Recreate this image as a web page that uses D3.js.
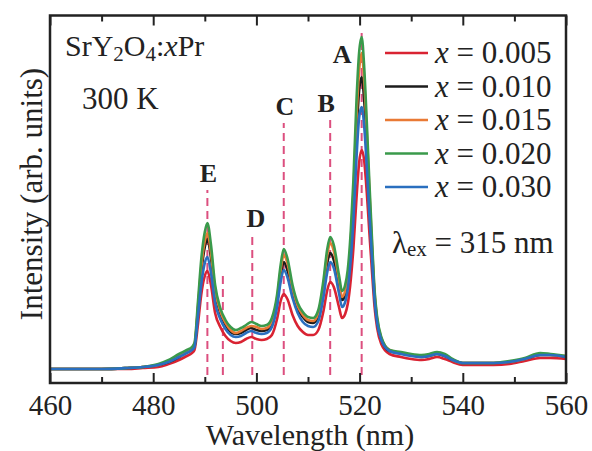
<!DOCTYPE html>
<html>
<head>
<meta charset="utf-8">
<script src="https://cdn.jsdelivr.net/npm/d3@7"></script>
<style>
  body { margin: 0; background: #fff; }
  text { font-family: "Liberation Serif", "Times New Roman", serif; fill: #222; }
</style>
</head>
<body>
<script>
// Emission spectra of SrY2O4:xPr (arb. units)
var wavelength = [460, 465, 470, 475, 478, 481, 483, 485, 486.5, 487.5, 488,
    488.7, 489.3, 490, 490.5, 491.2, 492, 493, 494, 495, 496, 497, 498, 499,
    500, 501, 502, 503, 504, 504.7, 505.3, 506, 507, 508, 509, 510, 511, 512,
    513, 513.7, 514.3, 515, 516, 516.6, 517.2, 517.7, 518.3, 518.8, 519.4,
    519.9, 520.4, 520.9, 521.4, 521.9, 522.5, 522.9, 523.4, 524.2, 525.8, 528,
    530, 532, 533.5, 535, 536.5, 538, 540, 543, 546, 549, 552, 555, 557, 560];

var int005 = [14, 14, 14, 14, 15, 16, 19, 23, 27, 30, 33, 60, 88, 107, 112, 98,
    70, 56, 47, 42, 40, 41, 44, 46, 44, 43, 44, 48, 64, 82, 89, 84, 68, 57, 51,
    48, 48, 53, 72, 92, 101, 96, 76, 65, 69, 79, 104, 135, 185, 220, 233, 222,
    190, 150, 104, 76, 55, 39, 29, 26, 24, 23, 24, 26, 24, 21, 18, 18, 18, 19,
    22, 25, 25, 24];
var int010 = [14, 14, 14, 15, 16, 18, 21, 26, 31, 34, 37, 75, 110, 136, 144,
    125, 90, 70, 58, 51, 49, 50, 53, 55, 53, 52, 53, 59, 80, 107, 121, 113, 90,
    74, 66, 61, 60, 67, 92, 119, 130, 123, 97, 83, 88, 101, 135, 178, 248, 292,
    306, 282, 235, 182, 123, 87, 62, 44, 32, 30, 28, 26, 27, 29, 27, 23, 20,
    20, 20, 21, 24, 28, 28, 26];
var int015 = [14, 14, 14, 15, 16, 18, 22, 27, 32, 35, 38, 78, 115, 142, 150,
    130, 93, 72, 60, 53, 50, 52, 55, 57, 56, 54, 55, 62, 84, 113, 128, 120, 94,
    77, 68, 63, 62, 70, 98, 127, 140, 132, 103, 86, 92, 106, 143, 190, 265, 312,
    330, 302, 250, 192, 128, 90, 64, 45, 33, 30, 28, 27, 28, 30, 28, 23, 20,
    20, 20, 21, 24, 29, 28, 27];
var int020 = [14, 14, 14, 15, 16, 19, 23, 29, 33, 36, 40, 83, 123, 151, 160,
    138, 98, 75, 63, 56, 53, 55, 58, 61, 59, 57, 58, 65, 88, 118, 134, 125, 98,
    80, 71, 66, 65, 73, 103, 133, 146, 138, 108, 92, 98, 113, 153, 203, 283,
    330, 346, 315, 260, 200, 133, 93, 66, 46, 33, 31, 29, 28, 29, 31, 29, 24,
    20, 20, 20, 22, 25, 30, 29, 27];
var int030 = [14, 14, 14, 15, 16, 18, 21, 26, 30, 33, 36, 68, 98, 120, 126,
    110, 80, 64, 54, 48, 46, 47, 50, 52, 50, 49, 50, 56, 76, 101, 113, 106, 85,
    70, 61, 57, 56, 62, 86, 110, 121, 115, 90, 76, 81, 94, 124, 162, 225, 265,
    276, 256, 215, 168, 116, 83, 60, 43, 32, 29, 27, 26, 27, 29, 27, 23, 20,
    20, 20, 21, 24, 28, 28, 26];

var seriesNames = ["0.005", "0.010", "0.015", "0.020", "0.030"];
var seriesColors = ["#d92332", "#1c1c1c", "#e97a35", "#3a9a4b", "#2a6fbf"];
var seriesValues = [int005, int010, int015, int020, int030];
var drawOrder = [0, 1, 2, 3, 4];

// Peak markers: position, top of dashed line, label
var peakPos = [490.5, 493.5, 499.2, 505.3, 514.3, 520.4];
var peakTop = [193, 111, 148, 260, 263, 350];
var peakLabel = ["E", "", "D", "C", "B", "A"];
var labelPos = [490.7, null, 499.9, 505.5, 513.5, 516.6];
var labelHeight = [201, null, 156, 268, 271, 320];

var xMajor = [460, 480, 500, 520, 540, 560];
var xMinor = [470, 490, 510, 530, 550];

var margin = {top: 15.5, right: 26, bottom: 68, left: 50},
    width = 592 - margin.left - margin.right,
    height = 451 - margin.top - margin.bottom;

var svg = d3.select("body").append("svg")
    .attr("width", 592)
    .attr("height", 451)
    .append("g")
    .attr("transform", "translate(" + margin.left + "," + margin.top + ")");

var x = d3.scaleLinear().domain([460, 560]).range([0, width]);
var y = d3.scaleLinear().domain([0, 367.5]).range([height, 0]);

// dashed peak lines
svg.selectAll("line.peak")
    .data(peakPos)
    .enter()
    .append("line")
    .attr("class", "peak")
    .attr("x1", function(d) { return x(d); })
    .attr("x2", function(d) { return x(d); })
    .attr("y1", y(8))
    .attr("y2", function(d, i) { return y(peakTop[i]); })
    .attr("stroke", "#dc4f7f")
    .attr("stroke-width", 2)
    .attr("stroke-dasharray", "8,5");

// spectra
var line = d3.line()
    .x(function(d) { return x(d[0]); })
    .y(function(d) { return y(d[1]); })
    .curve(d3.curveMonotoneX);

drawOrder.forEach(function(k) {
    var pts = wavelength.map(function(w, i) { return [w, seriesValues[k][i]]; });
    svg.append("path")
        .datum(pts)
        .attr("d", line)
        .attr("fill", "none")
        .attr("stroke", seriesColors[k])
        .attr("stroke-width", 2.6)
        .attr("stroke-linejoin", "round");
});

// peak letters
svg.selectAll("text.peakLabel")
    .data(peakLabel)
    .enter()
    .filter(function(d) { return d !== ""; })
    .append("text")
    .attr("class", "peakLabel")
    .attr("x", function(d) { return x(labelPos[peakLabel.indexOf(d)]); })
    .attr("y", function(d) { return y(labelHeight[peakLabel.indexOf(d)]); })
    .attr("text-anchor", "middle")
    .attr("font-weight", "bold")
    .attr("font-size", "26px")
    .text(function(d) { return d; });

// axes, ticks pointing inward
function tickAxis(gen, vals, size) {
    return gen(x).tickValues(vals).tickSize(-size).tickFormat("");
}
var bottom = svg.append("g").attr("transform", "translate(0," + height + ")");
bottom.call(tickAxis(d3.axisBottom, xMinor, 6));
var bottomMajor = svg.append("g")
    .attr("transform", "translate(0," + height + ")")
    .call(d3.axisBottom(x).tickValues(xMajor).tickSize(-10).tickPadding(11)
        .tickFormat(d3.format("d")));
bottomMajor.selectAll("text").attr("font-size", "29px")
    .style("font-family", "'Liberation Serif', serif").attr("fill", "#222");
svg.append("g").call(tickAxis(d3.axisTop, xMinor, 6));
svg.append("g").call(tickAxis(d3.axisTop, xMajor, 10));
svg.selectAll(".domain").remove();
svg.selectAll(".tick line").attr("stroke", "#222").attr("stroke-width", 2);

svg.append("rect")
    .attr("width", width)
    .attr("height", height)
    .attr("fill", "none")
    .attr("stroke", "#222")
    .attr("stroke-width", 2.5);

// axis titles
svg.append("text")
    .attr("x", width / 2 + 2)
    .attr("y", height + 62)
    .attr("text-anchor", "middle")
    .attr("font-size", "30px")
    .text("Wavelength (nm)");
svg.append("text")
    .attr("transform", "translate(-8,178.5) rotate(-90)")
    .attr("text-anchor", "middle")
    .attr("font-size", "31px")
    .text("Intensity (arb. units)");

// sample annotation
var title = svg.append("text").attr("x", 15).attr("y", 40).attr("font-size", "30px");
title.append("tspan").text("SrY");
title.append("tspan").attr("font-size", "21px").attr("dy", 5).text("2");
title.append("tspan").attr("dy", -5).text("O");
title.append("tspan").attr("font-size", "21px").attr("dy", 5).text("4");
title.append("tspan").attr("dy", -5).text(":");
title.append("tspan").attr("font-style", "italic").text("x");
title.append("tspan").text("Pr");

svg.append("text").attr("x", 32).attr("y", 93).attr("font-size", "31px")
    .text("300 K");

var ex = svg.append("text").attr("x", 342).attr("y", 237).attr("font-size", "31px");
ex.append("tspan").text("λ");
ex.append("tspan").attr("font-size", "21px").attr("dy", 3).text("ex");
ex.append("tspan").attr("dy", -3).text(" = 315 nm");

// legend
var legend = svg.selectAll("g.legend")
    .data(seriesNames)
    .enter()
    .append("g")
    .attr("class", "legend")
    .attr("transform", function(d, i) {
        return "translate(335," + (37.5 + i * 33.5) + ")";
    });
legend.append("line")
    .attr("x1", 0).attr("x2", 43)
    .attr("stroke", function(d, i) { return seriesColors[i]; })
    .attr("stroke-width", 2.5);
var lt = legend.append("text").attr("x", 50).attr("y", 10).attr("font-size", "31px");
lt.append("tspan").attr("font-style", "italic").text("x");
lt.append("tspan").text(function(d) { return " = " + d; });
</script>
</body>
</html>
